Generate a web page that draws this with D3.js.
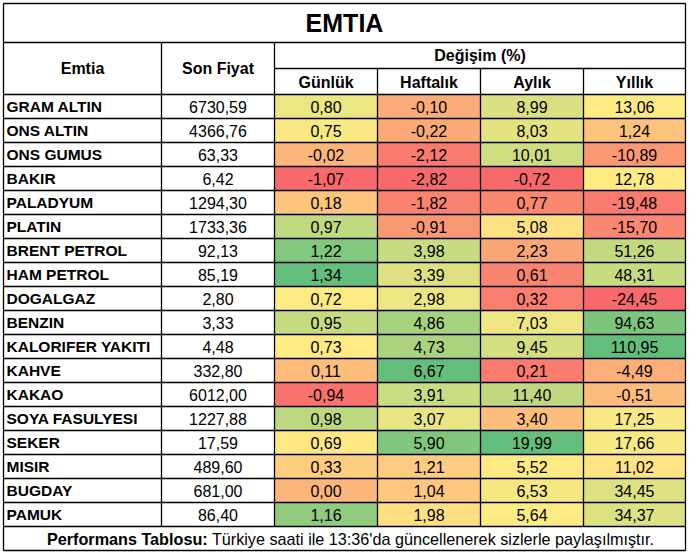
<!DOCTYPE html>
<html>
<head>
<meta charset="utf-8">
<script src="https://cdn.jsdelivr.net/npm/d3@7"></script>
<style>
  body { margin: 0; background: #fff; }
  text { font-family: "Liberation Sans", Arial, sans-serif; fill: #000; }
</style>
</head>
<body>
<div id="chart"></div>
<script>
// table data
const names = ["GRAM ALTIN", "ONS ALTIN", "ONS GUMUS", "BAKIR", "PALADYUM", "PLATIN",
  "BRENT PETROL", "HAM PETROL", "DOGALGAZ", "BENZIN", "KALORIFER YAKITI", "KAHVE",
  "KAKAO", "SOYA FASULYESI", "SEKER", "MISIR", "BUGDAY", "PAMUK"];
const sonFiyat = [6730.59, 4366.76, 63.33, 6.42, 1294.30, 1733.36, 92.13, 85.19, 2.80,
  3.33, 4.48, 332.80, 6012.00, 1227.88, 17.59, 489.60, 681.00, 86.40];
const gunluk = [0.80, 0.75, -0.02, -1.07, 0.18, 0.97, 1.22, 1.34, 0.72, 0.95, 0.73,
  0.11, -0.94, 0.98, 0.69, 0.33, 0.00, 1.16];
const haftalik = [-0.10, -0.22, -2.12, -2.82, -1.82, -0.91, 3.98, 3.39, 2.98, 4.86, 4.73,
  6.67, 3.91, 3.07, 5.90, 1.21, 1.04, 1.98];
const aylik = [8.99, 8.03, 10.01, -0.72, 0.77, 5.08, 2.23, 0.61, 0.32, 7.03, 9.45,
  0.21, 11.40, 3.40, 19.99, 5.52, 6.53, 5.64];
const yillik = [13.06, 1.24, -10.89, 12.78, -19.48, -15.70, 51.26, 48.31, -24.45, 94.63,
  110.95, -4.49, -0.51, 17.25, 17.66, 11.02, 34.45, 34.37];
const changeLabels = ["Günlük", "Haftalık", "Aylık", "Yıllık"];
const title = "EMTIA";
const footBold = "Performans Tablosu:";
const footText = " Türkiye saati ile 13:36'da güncellenerek sizlerle paylaşılmıştır.";

const width = 690, height = 552;
const svg = d3.select("#chart").append("svg")
  .attr("width", width).attr("height", height);

// layout
const left = 3.5, right = 685.5;
const titleTop = 3.5, titleBot = 42.5, subTop = 68.5, headBot = 94.5;
const rowH = 24;
const tableBot = headBot + names.length * rowH;
const footBot = 550.5;

const colEdges = [left, 161.5, 274.5, 377.5, 480.5, 583.5, right];

const y = d3.scaleBand().domain(d3.range(names.length))
  .range([headBot, tableBot]);

// turkish style numbers: comma decimal, plain hyphen minus
const fmt = v => d3.format(".2f")(v).replace("\u2212", "-").replace(".", ",");

const series = [gunluk, haftalik, aylik, yillik];
const colors = series.map(s => {
  const med = d3.median(s);
  return d3.scaleLinear()
    .domain([d3.min(s), med, d3.max(s)])
    .range(["#F8696B", "#FFEB84", "#63BE7B"])
    .interpolate(d3.interpolateRgb);
});

// coloured cells
series.forEach((s, j) => {
  const x0 = colEdges[2 + j], x1 = colEdges[3 + j];
  svg.append("g").selectAll("rect").data(s).join("rect")
    .attr("x", x0).attr("y", (d, i) => y(i))
    .attr("width", x1 - x0).attr("height", y.bandwidth())
    .attr("fill", d => colors[j](d));
  svg.append("g").selectAll("text").data(s).join("text")
    .attr("x", (x0 + x1) / 2).attr("y", (d, i) => y(i) + y.bandwidth() / 2 + 6)
    .attr("text-anchor", "middle").style("font-size", "16px")
    .text(fmt);
});

// names and prices
svg.append("g").selectAll("text").data(names).join("text")
  .attr("x", left + 3).attr("y", (d, i) => y(i) + y.bandwidth() / 2 + 5.5)
  .style("font-size", "15.5px").style("font-weight", "bold")
  .text(d => d);
svg.append("g").selectAll("text").data(sonFiyat).join("text")
  .attr("x", (colEdges[1] + colEdges[2]) / 2).attr("y", (d, i) => y(i) + y.bandwidth() / 2 + 6)
  .attr("text-anchor", "middle").style("font-size", "16px")
  .text(fmt);

// grid lines
const g = svg.append("g").attr("stroke", "#000").attr("stroke-width", 1.3);
const hl = (x0, x1, yy) => g.append("line").attr("x1", x0).attr("x2", x1).attr("y1", yy).attr("y2", yy);
const vl = (xx, y0, y1) => g.append("line").attr("x1", xx).attr("x2", xx).attr("y1", y0).attr("y2", y1);
hl(left, right, titleTop);
hl(left, right, titleBot);
hl(colEdges[2], right, subTop);
d3.range(names.length + 1).forEach(i => hl(left, right, headBot + i * rowH));
hl(left, right, footBot);
vl(left, titleTop, footBot);
vl(right, titleTop, footBot);
vl(colEdges[1], titleBot, tableBot);
vl(colEdges[2], titleBot, tableBot);
[3, 4, 5].forEach(k => vl(colEdges[k], subTop, tableBot));

// headers
svg.append("text").attr("x", (left + right) / 2).attr("y", 32)
  .attr("text-anchor", "middle").style("font-size", "25px").style("font-weight", "bold")
  .text(title);
const hdr = (txt, x, yy) => svg.append("text").attr("x", x).attr("y", yy)
  .attr("text-anchor", "middle").style("font-size", "16px").style("font-weight", "bold").text(txt);
hdr("Emtia", (colEdges[0] + colEdges[1]) / 2, 74);
hdr("Son Fiyat", (colEdges[1] + colEdges[2]) / 2, 74);
hdr("Değişim (%)", (colEdges[2] + right) / 2, 61);
changeLabels.forEach((c, j) => hdr(c, (colEdges[2 + j] + colEdges[3 + j]) / 2, 87.5));

// footer
const ft = svg.append("text").attr("x", (left + right) / 2 + 6).attr("y", tableBot + 18)
  .attr("text-anchor", "middle").style("font-size", "16.2px");
ft.append("tspan").style("font-weight", "bold").text(footBold);
ft.append("tspan").text(footText);
</script>
</body>
</html>
